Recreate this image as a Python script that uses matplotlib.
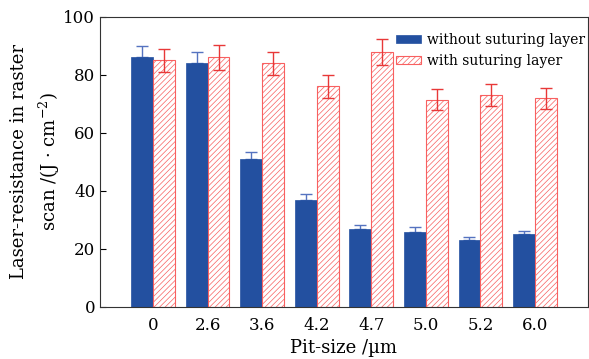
import numpy as np
import matplotlib
matplotlib.use('Agg')
import matplotlib.pyplot as plt

plt.rcParams['font.family'] = ['DejaVu Serif']
plt.rcParams['hatch.linewidth'] = 0.5
plt.rcParams['mathtext.fontset'] = 'dejavuserif'

pit_sizes = ['0', '2.6', '3.6', '4.2', '4.7', '5.0', '5.2', '6.0']
without_layer = [86, 84, 51, 37, 27, 26, 23, 25]
without_err = [4, 4, 2.5, 2, 1.2, 1.5, 1.2, 1.2]
with_layer = [85, 86, 84, 76, 88, 71.5, 73, 72]
with_err = [4, 4.3, 4, 3.8, 4.5, 3.6, 3.7, 3.6]

x = np.arange(len(pit_sizes))
w = 0.4

fig = plt.figure(figsize=(5.89, 3.59), dpi=100)
ax = fig.add_axes([0.17, 0.145, 0.828, 0.808])

blue = '#2350A0'
red = '#F86060'

ax.errorbar(x - w/2, without_layer, yerr=[np.zeros(len(x)), without_err], fmt='none',
            ecolor='#5573C0', elinewidth=1, capsize=4, capthick=1, zorder=1)
ax.bar(x - w/2, without_layer, w, color=blue, edgecolor=blue, linewidth=0.5,
       label='without suturing layer', zorder=2)
ax.bar(x + w/2, with_layer, w, facecolor='white', edgecolor=red, hatch='//////',
       linewidth=0.8, label='with suturing layer', zorder=2)
ax.errorbar(x + w/2, with_layer, yerr=with_err, fmt='none',
            ecolor='#E83838', elinewidth=1, capsize=4, capthick=1, zorder=3)

ax.set_xlim(-0.97, 7.97)
ax.set_ylim(0, 100)
ax.set_yticks(range(0, 101, 20))
ax.set_xticks(x)
ax.set_xticklabels(pit_sizes)
ax.tick_params(direction='in', labelsize=12, length=4)
ax.tick_params(axis='x', pad=7)
for s in ax.spines.values():
    s.set_color('#333333')

ax.set_xlabel('Pit-size /µm', fontsize=13, labelpad=4)
ax.set_ylabel('Laser-resistance in raster\nscan /(J · cm$^{-2}$)', fontsize=13,
              linespacing=1.45, labelpad=1)

ax.legend(loc='upper right', bbox_to_anchor=(1.0, 0.955), frameon=False, fontsize=10,
          handlelength=1.8, handleheight=0.5, handletextpad=0.45, labelspacing=0.55,
          borderaxespad=0.0, borderpad=0.2)

fig.savefig('out.png', dpi=100)
